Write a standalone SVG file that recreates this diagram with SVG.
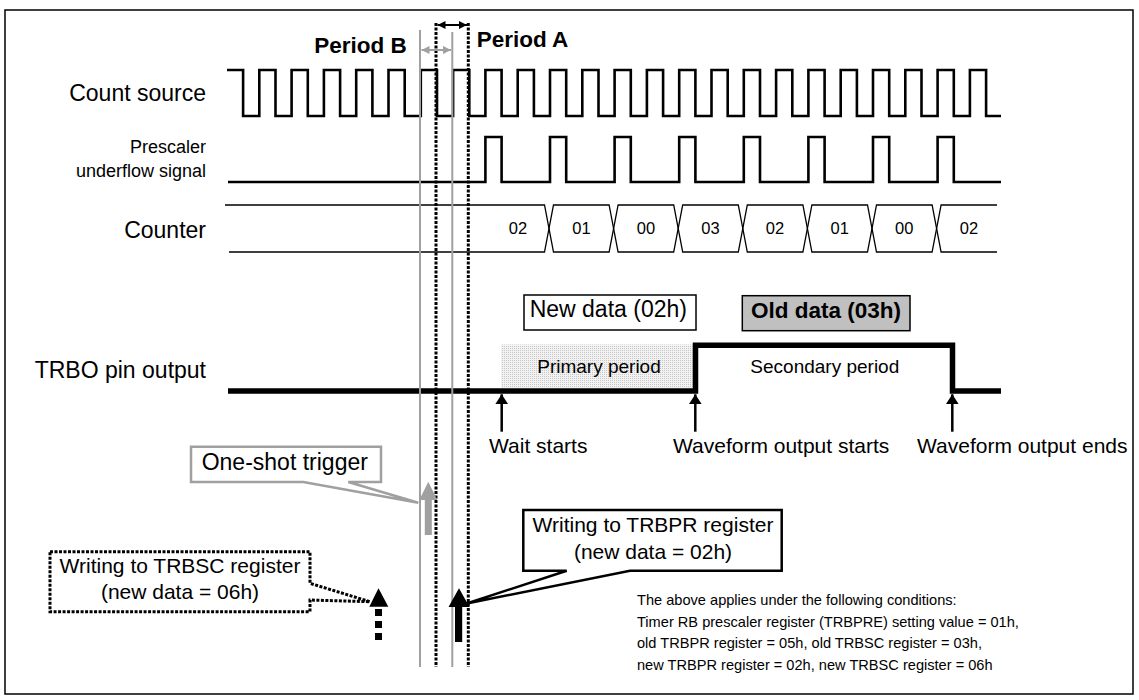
<svg xmlns="http://www.w3.org/2000/svg" width="1139" height="700" viewBox="0 0 1139 700">
<style>
text{font-family:"Liberation Sans",Arial,sans-serif;fill:#000}
.lbl{font-size:23px;text-anchor:end}
.lbls{font-size:18px;text-anchor:end}
.cnt{font-size:16.5px;text-anchor:middle}
.per{font-size:22.5px;font-weight:bold}
.evt{font-size:21px}
.co{font-size:21px;text-anchor:middle}
.cond{font-size:14.6px}
.wave{fill:none;stroke:#000;stroke-width:2.6;stroke-linejoin:miter}
.ctr{fill:none;stroke:#000;stroke-width:1.3}
.gl{stroke:#a0a0a0;stroke-width:2;fill:none}
.dl{stroke:#000;stroke-width:3;stroke-dasharray:3,1.5;fill:none}
.sarr{stroke:#000;stroke-width:2.5;fill:none;marker-end:url(#ah)}
</style>
<defs>
<marker id="ah" markerUnits="userSpaceOnUse" markerWidth="10" markerHeight="13" refX="10" refY="6.5" orient="auto"><path d="M0,0 L10,6.5 L0,13 Z" fill="#000"/></marker>
<marker id="pa" markerUnits="userSpaceOnUse" markerWidth="8" markerHeight="8" refX="8" refY="4" orient="auto-start-reverse"><path d="M0,0 L8,4 L0,8 Z" fill="#000"/></marker>
<marker id="pb" markerUnits="userSpaceOnUse" markerWidth="8" markerHeight="8" refX="8" refY="4" orient="auto-start-reverse"><path d="M0,0 L8,4 L0,8 Z" fill="#a0a0a0"/></marker>
<pattern id="dots" width="2" height="2" patternUnits="userSpaceOnUse"><rect width="2" height="2" fill="#f2f2f2"/><rect width="1" height="1" fill="#c8c8c8"/></pattern>
</defs>
<rect x="5" y="10" width="1128" height="684" fill="#fff" stroke="#000" stroke-width="1.5"/>

<g id="labels">
<text class="lbl" x="206" y="101">Count source</text>
<text class="lbls" x="206" y="153">Prescaler</text>
<text class="lbls" x="206" y="177">underflow signal</text>
<text class="lbl" x="206" y="238">Counter</text>
<text class="lbl" x="206" y="378">TRBO pin output</text>
</g>

<g id="count-source">
<path class="wave" d="M227,70 H243.1 V116 H259.3 V70 H275.5 V116 H291.6 V70 H307.8 V116 H323.9 V70 H340.1 V116 H356.2 V70 H372.4 V116 H388.5 V70 H404.7 V116 H420.8 V70 H437 V116 H453.1 V70 H469.3 V116 H485.4 V70 H501.6 V116 H517.7 V70 H533.9 V116 H550 V70 H566.2 V116 H582.3 V70 H598.5 V116 H614.6 V70 H630.8 V116 H646.9 V70 H663.1 V116 H679.2 V70 H695.4 V116 H711.5 V70 H727.7 V116 H743.8 V70 H760 V116 H776.1 V70 H792.3 V116 H808.4 V70 H824.6 V116 H840.7 V70 H856.9 V116 H873 V70 H889.2 V116 H905.3 V70 H921.5 V116 H937.6 V70 H953.8 V116 H969.9 V70 H986.1 V116 H1001"/>
</g>

<g id="prescaler">
<path class="wave" d="M228,182 H485.4 V137 H501.6 V182 H550 V137 H566.2 V182 H614.6 V137 H630.8 V182 H679.2 V137 H695.4 V182 H743.8 V137 H760 V182 H808.4 V137 H824.6 V182 H873 V137 H889.2 V182 H937.6 V137 H953.8 V182 H1001"/>
</g>

<g id="counter">
<path class="ctr" d="M225,205 H544.5 L553.5,252 H609.1 L618.1,205 H673.7 L682.7,252 H738.3 L747.3,205 H802.9 L811.9,252 H867.5 L876.5,205 H932.1 L941.1,252 H997"/>
<path class="ctr" d="M229,252 H544.5 L553.5,205 H609.1 L618.1,252 H673.7 L682.7,205 H738.3 L747.3,252 H802.9 L811.9,205 H867.5 L876.5,252 H932.1 L941.1,205 H997"/>
<text class="cnt" x="518" y="234">02</text>
<text class="cnt" x="581.5" y="234">01</text>
<text class="cnt" x="646" y="234">00</text>
<text class="cnt" x="710.5" y="234">03</text>
<text class="cnt" x="775" y="234">02</text>
<text class="cnt" x="839.7" y="234">01</text>
<text class="cnt" x="904.3" y="234">00</text>
<text class="cnt" x="969" y="234">02</text>
</g>

<g id="data-boxes">
<rect x="524" y="295" width="172" height="35" fill="#fff" stroke="#000" stroke-width="1.5"/>
<text x="608.3" y="317" font-size="23" text-anchor="middle">New data (02h)</text>
<rect x="742.3" y="295.7" width="167.7" height="35" fill="#c0c0c0" stroke="#000" stroke-width="1.5"/>
<text x="826" y="317.5" font-size="22.5" font-weight="bold" text-anchor="middle">Old data (03h)</text>
</g>

<g id="trbo">
<rect x="501" y="344.5" width="192" height="43.5" fill="url(#dots)"/>
<text x="599" y="372.7" font-size="19" text-anchor="middle">Primary period</text>
<text x="824.8" y="372.7" font-size="19" text-anchor="middle">Secondary period</text>
<path d="M228,391 H695.5 V345.3 H952.5 V391 H1001" fill="none" stroke="#000" stroke-width="5.5"/>
</g>

<g id="connectors">
<line class="sarr" x1="501.7" y1="431.7" x2="501.7" y2="394.3"/>
<line class="sarr" x1="695.3" y1="431.7" x2="695.3" y2="394.3"/>
<line class="sarr" x1="952.3" y1="431.7" x2="952.3" y2="394.3"/>
<line class="gl" x1="420" y1="30" x2="420" y2="667"/>
<line class="gl" x1="452.3" y1="32" x2="452.3" y2="667"/>
<line class="dl" x1="436" y1="23" x2="436" y2="667"/>
<line class="dl" x1="468.3" y1="23" x2="468.3" y2="667"/>
<line x1="437.5" y1="25" x2="467" y2="25" stroke="#000" stroke-width="2" marker-start="url(#pa)" marker-end="url(#pa)"/>
<line x1="421.5" y1="50" x2="451" y2="50" stroke="#a0a0a0" stroke-width="2" marker-start="url(#pb)" marker-end="url(#pb)"/>
</g>

<g id="periods">
<text class="per" x="314.3" y="53">Period B</text>
<text class="per" x="476.7" y="47">Period A</text>
</g>

<g id="events">
<text class="evt" x="489" y="453">Wait starts</text>
<text class="evt" x="673" y="453">Waveform output starts</text>
<text class="evt" x="917" y="453">Waveform output ends</text>
</g>

<g id="one-shot-trigger">
<path d="M191,446.7 H381 V482 H348.3 L418.3,502.7 L303.3,482 H191 Z" fill="#fff" stroke="#a0a0a0" stroke-width="2.5"/>
<text x="201.7" y="470" font-size="23">One-shot trigger</text>
<path d="M419.3,500 L428.3,481.7 L437.3,500 H431.8 V535 H424.8 V500 Z" fill="#a0a0a0"/>
</g>

<g id="trbsc-write">
<path d="M50,551.7 H310 V583.3 L370,601.7 L310,600 V611.7 H50 Z" fill="#fff" stroke="#000" stroke-width="3" stroke-dasharray="3,1.5"/>
<text class="co" x="180" y="572.7">Writing to TRBSC register</text>
<text class="co" x="180" y="599">(new data = 06h)</text>
<path d="M369.3,606.7 L378.5,588.3 L388.3,606.7 Z" fill="#000"/>
<line x1="378.5" y1="609" x2="378.5" y2="642" stroke="#000" stroke-width="7" stroke-dasharray="7,5"/>
</g>

<g id="trbpr-write">
<path d="M523.3,510 H781.7 V570.7 H630 L466.7,603.5 L566.7,570.7 H523.3 Z" fill="#fff" stroke="#000" stroke-width="2.5"/>
<text class="co" x="653" y="531.7">Writing to TRBPR register</text>
<text class="co" x="653" y="559.3">(new data = 02h)</text>
<path d="M448.5,607 L459,588.3 L469.5,607 H462.2 V642 H455 V607 Z" fill="#000"/>
</g>

<g id="conditions">
<text class="cond" x="637" y="605">The above applies under the following conditions:</text>
<text class="cond" x="637" y="626.7">Timer RB prescaler register (TRBPRE) setting value = 01h,</text>
<text class="cond" x="637" y="648.3">old TRBPR register = 05h, old TRBSC register = 03h,</text>
<text class="cond" x="637" y="670">new TRBPR register = 02h, new TRBSC register = 06h</text>
</g>
</svg>
